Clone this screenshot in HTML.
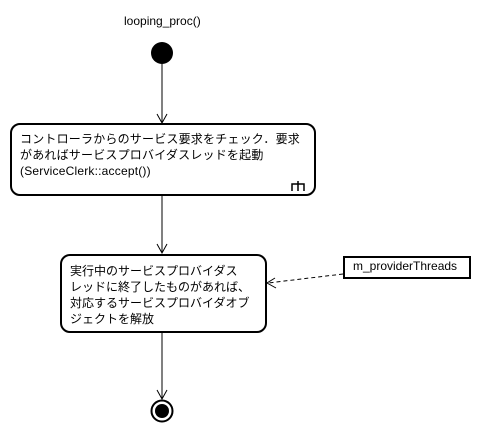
<!DOCTYPE html>
<html><head><meta charset="utf-8"><style>
html,body{margin:0;padding:0;background:#fff;}
body{width:481px;height:431px;position:relative;overflow:hidden;font-family:"Liberation Sans","Noto Sans CJK JP",sans-serif;color:#000;}
.t{position:absolute;font-size:12px;line-height:16px;white-space:nowrap;}
</style></head><body>
<svg width="481" height="431" style="position:absolute;left:0;top:0">
<circle cx="162" cy="53" r="11" fill="#000"/>
<line x1="162" y1="64" x2="162" y2="123" stroke="#000"/>
<polyline points="157,114 162,123 167,114" fill="none" stroke="#000"/>
<rect x="11" y="124" width="304" height="71" rx="9" fill="#fff" stroke="#000" stroke-width="2"/>
<path d="M292 191 V184 H304 V191 M298 181 V191" fill="none" stroke="#000" stroke-width="1.5"/>
<line x1="162" y1="196" x2="162" y2="253" stroke="#000"/>
<polyline points="157,244 162,253 167,244" fill="none" stroke="#000"/>
<rect x="61" y="255" width="205" height="77" rx="9" fill="#fff" stroke="#000" stroke-width="2"/>
<rect x="344" y="257" width="126" height="21" fill="#fff" stroke="#000" stroke-width="2"/>
<line x1="343" y1="274" x2="268" y2="283" stroke="#000" stroke-dasharray="4,3"/>
<polyline points="275,278 267,283 276,288" fill="none" stroke="#000"/>
<line x1="162" y1="333" x2="162" y2="399" stroke="#000"/>
<polyline points="157,390 162,399 167,390" fill="none" stroke="#000"/>
<circle cx="162" cy="411" r="10.5" fill="none" stroke="#000" stroke-width="2"/>
<circle cx="162" cy="411" r="7" fill="#000"/>
</svg>
<div class="t" style="left:124px;top:13px;">looping_proc()</div>
<div class="t" style="left:20px;top:131px;letter-spacing:0.2px;">コントローラからのサービス要求をチェック．要求<br>があればサービスプロバイダスレッドを起動<br>(ServiceClerk::accept())</div>
<div class="t" style="left:70px;top:263px;">実行中のサービスプロバイダス<br>レッドに終了したものがあれば、<br>対応するサービスプロバイダオブ<br>ジェクトを解放</div>
<div class="t" style="left:353px;top:258px;">m_providerThreads</div>
</body></html>
